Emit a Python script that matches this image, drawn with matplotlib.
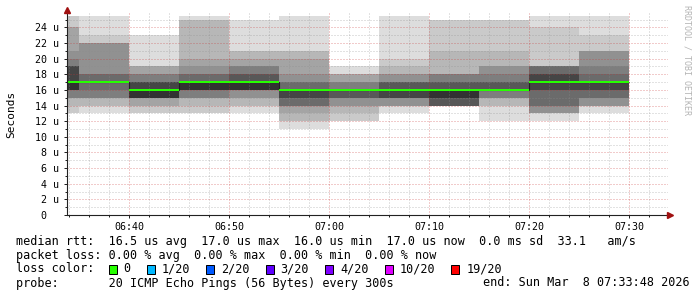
import numpy as np
import matplotlib.pyplot as plt
from matplotlib.patches import Rectangle

# time axis in minutes after 06:00, every sample covers the 5 minutes before it
slot_end = [35, 40, 45, 50, 55, 60, 65, 70, 75, 80, 85, 90]

# 20 sorted ping rtts per sample (microseconds)
p_0635 = [13, 13, 14, 15, 15, 15, 16, 16, 16, 16, 17, 19, 19, 19, 20, 21, 24, 24, 25.5, 25.5]
p_0640 = [13, 14, 14, 15, 15, 15, 16, 17, 17, 17, 17, 17, 17, 18, 18, 22, 22, 22, 23, 25.5]
p_0645 = [13, 13, 14, 14, 15, 15, 15, 15, 15, 15, 16, 17, 17, 17, 18, 18, 19, 19, 19, 23]
p_0650 = [13, 13, 14, 15, 15, 15, 16, 16, 16, 16, 17, 17, 17, 18, 18, 19, 20, 25, 25, 25.5]
p_0655 = [13, 14, 14, 15, 15, 16, 16, 16, 16, 16, 17, 17, 18, 18, 19, 19, 20, 21, 21, 25]
p_0700 = [11, 12, 12, 13, 14, 14, 14, 15, 15, 16, 16, 16, 16, 17, 17, 18, 20, 21, 21, 25.5]
p_0705 = [12, 12, 13, 14, 14, 15, 15, 15, 16, 16, 16, 16, 16, 16, 17, 17, 18, 18, 18, 19]
p_0710 = [13, 14, 14, 14, 14, 15, 15, 15, 15, 16, 16, 16, 17, 17, 17, 18, 18, 19, 20, 25.5]
p_0715 = [14, 14, 14, 14, 14, 14, 14, 14, 15, 15, 16, 16, 17, 17, 18, 18, 18, 21, 25, 25]
p_0720 = [12, 14, 14, 15, 15, 15, 16, 16, 17, 17, 17, 17, 17, 17, 18, 19, 19, 21, 25, 25]
p_0725 = [12, 13, 13, 13, 13, 14, 14, 16, 16, 17, 17, 18, 18, 19, 19, 19, 19, 19, 24, 25.5]
p_0730 = [13, 14, 14, 14, 14, 15, 15, 16, 16, 17, 17, 17, 17, 18, 19, 21, 21, 21, 23, 25.5]

median_us = [17, 17, 16, 17, 17, 16, 16, 16, 16, 16, 17, 17]

xtick_vals = [40, 50, 60, 70, 80, 90]
xtick_labels = ['06:40', '06:50', '07:00', '07:10', '07:20', '07:30']
ytick_vals = [0, 2, 4, 6, 8, 10, 12, 14, 16, 18, 20, 22, 24]
ytick_labels = ['0  ', '2 u', '4 u', '6 u', '8 u', '10 u', '12 u', '14 u',
                '16 u', '18 u', '20 u', '22 u', '24 u']

loss_labels = ['0', '1/20', '2/20', '3/20', '4/20', '10/20', '19/20']
loss_colors = ['#26ff00', '#00b8ff', '#0059ff', '#5e00ff', '#7e00ff', '#dd00ff', '#ff0000']

rtt_line = 'median rtt:  16.5 us avg  17.0 us max  16.0 us min  17.0 us now  0.0 ms sd  33.1   am/s'
loss_line = 'packet loss: 0.00 % avg  0.00 % max  0.00 % min  0.00 % now'
probe_line = 'probe:       20 ICMP Echo Pings (56 Bytes) every 300s'
end_line = 'end: Sun Mar  8 07:33:48 2026'

W, H = 697, 297
plt.rcParams['font.family'] = 'DejaVu Sans Mono'

fig = plt.figure(figsize=(W / 100, H / 100), dpi=100)
fig.patch.set_facecolor('white')


def fx(px):
    return px / W


def fy(py):
    return 1 - py / H


ax = fig.add_axes([fx(67), fy(215), fx(668) - fx(67), fy(13) - fy(215)])
ax.set_xlim(33.8, 93.9)
ax.set_ylim(0, 202 / 7.82)

# smoke: nested bands, darker towards the middle
pings = np.array([p_0635, p_0640, p_0645, p_0650, p_0655, p_0700,
                  p_0705, p_0710, p_0715, p_0720, p_0725, p_0730])
left = np.array(slot_end) - 5
n = pings.shape[1]
half = n // 2
for i in range(half):
    g = int(190 / half * (half - (i + 1))) + 50
    lo = pings[:, i]
    hi = pings[:, n - 1 - i]
    ax.bar(left, hi - lo, width=5, bottom=lo, align='edge',
           color='#%02x%02x%02x' % (g, g, g), linewidth=0, zorder=1)

# median
edges = np.append(left, slot_end[-1])
med = np.array(median_us, dtype=float)
sw = ax.get_ylim()[1] / 202
ax.stairs(med, edges, baseline=None, color='#202020', lw=0.8, zorder=3)
ax.stairs(med + sw, edges, baseline=med - sw, fill=True, color='#26ff00', lw=0, zorder=3.1)

# grid
ax.set_xticks(xtick_vals)
ax.set_xticklabels(xtick_labels)
ax.set_xticks(np.arange(34, 94, 2), minor=True)
ax.set_yticks(ytick_vals)
ax.set_yticklabels(ytick_labels)
ax.set_yticks(np.arange(1, 26, 1), minor=True)
ax.grid(which='major', color='#c83232', alpha=0.5, lw=0.72, linestyle=(0, (1, 2)))
ax.grid(which='minor', color='#8c8c8c', alpha=0.5, lw=0.72, linestyle=(0, (1, 2)))
ax.set_axisbelow(False)

for s in ['top', 'right', 'left']:
    ax.spines[s].set_visible(False)
ax.spines['bottom'].set_color('#222222')
ax.spines['bottom'].set_linewidth(0.8)
ax.plot([0, 0], [0, 1.01], transform=ax.transAxes, color='#222222', lw=0.8, clip_on=False, zorder=5)
ax.plot([1.004], [0], marker='>', ms=4, color='#a01010', transform=ax.transAxes, clip_on=False, zorder=6)
ax.plot([0], [1.015], marker='^', ms=4, color='#a01010', transform=ax.transAxes, clip_on=False, zorder=6)

ax.tick_params(which='major', length=2, width=0.72, color='#222222', labelsize=7.2)
ax.tick_params(which='minor', length=1.2, width=0.72, color='#222222')
ax.tick_params(axis='x', pad=3)
ax.tick_params(axis='y', pad=4)

fig.text(fx(11), fy(114), 'Seconds', rotation=90, ha='center', va='center', fontsize=8)
fig.text(fx(687), fy(60), 'RRDTOOL / TOBI OETIKER', rotation=270, ha='center', va='center',
         fontsize=6, color='#b4b4b4')

# legend block
fs = 8.5
fig.text(fx(16), fy(241), rtt_line, va='center', fontsize=fs)
fig.text(fx(16), fy(255), loss_line, va='center', fontsize=fs)
fig.text(fx(16), fy(269), 'loss color:', va='center', fontsize=fs)
fig.text(fx(16), fy(283), probe_line, va='center', fontsize=fs)
fig.text(fx(690), fy(283), end_line, va='center', ha='right', fontsize=fs)

cw = 7.12
x = 16 + 13 * cw
for lab, col in zip(loss_labels, loss_colors):
    fig.patches.append(Rectangle((fx(x), fy(274)), 8 / W, 9 / H, transform=fig.transFigure,
                                 facecolor=col, edgecolor='black', lw=0.72))
    fig.text(fx(x + 15), fy(269), lab, va='center', fontsize=fs)
    x = x + 15 + len(lab) * cw + 16

fig.savefig('out.png', dpi=100)
